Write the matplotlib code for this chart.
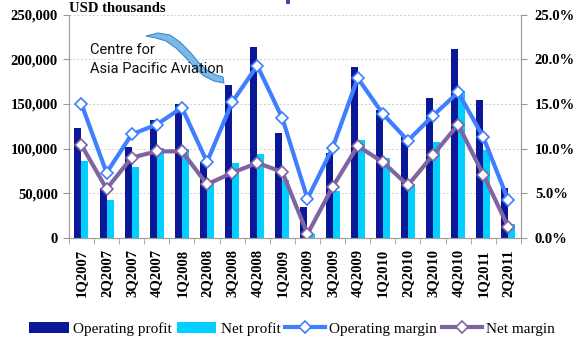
import matplotlib.pyplot as plt
import numpy as np
from matplotlib.patches import Polygon, Rectangle

quarters = ['1Q2007', '2Q2007', '3Q2007', '4Q2007', '1Q2008', '2Q2008',
            '3Q2008', '4Q2008', '1Q2009', '2Q2009', '3Q2009', '4Q2009',
            '1Q2010', '2Q2010', '3Q2010', '4Q2010', '1Q2011', '2Q2011']
operating_profit = [123500, 56000, 102000, 132000, 149500, 85000,
                    171000, 214000, 118000, 35000, 95000, 191000,
                    143500, 114000, 157000, 211000, 154000, 55500]
net_profit = [86000, 42500, 79000, 101000, 100000, 60000,
              83500, 93500, 65000, 4000, 53000, 110000,
              89000, 61000, 107000, 165000, 98000, 15500]
operating_margin = [15.0, 7.3, 11.6, 12.7, 14.6, 8.5, 15.2, 19.3, 13.4,
                    4.4, 10.1, 17.9, 13.9, 10.9, 13.7, 16.3, 11.3, 4.2]
net_margin = [10.4, 5.5, 9.0, 9.7, 9.7, 6.0, 7.3, 8.4, 7.4,
              0.45, 5.7, 10.3, 8.5, 5.9, 9.3, 12.7, 7.1, 1.2]

serif = 'Liberation Serif'
c_op = '#0A1796'
c_net = '#00CFFF'
c_opm = '#3F7FFF'
c_netm = '#8064A2'

W, H = 584, 348
fig = plt.figure(figsize=(W / 100, H / 100), dpi=100)
ax = fig.add_axes([0.118, 0.316, 0.774, 0.642])
ax2 = ax.twinx()

x = np.arange(len(quarters))
w = 0.28
b1 = ax.bar(x - w / 2, operating_profit, w, color=c_op, label='Operating profit', zorder=2)
b2 = ax.bar(x + w / 2, net_profit, w, color=c_net, label='Net profit', zorder=2)

l1, = ax2.plot(x, operating_margin, color=c_opm, lw=3, marker='D', ms=6,
               mfc='white', mec=c_opm, mew=1.2, label='Operating margin')
l2, = ax2.plot(x, net_margin, color=c_netm, lw=3, marker='D', ms=6,
               mfc='white', mec=c_netm, mew=1.2, label='Net margin')

ax.set_xlim(-0.5, len(quarters) - 0.5)
ax.set_ylim(0, 250000)
ax2.set_ylim(0, 25)
ax.set_yticks(np.arange(0, 250001, 50000))
ax.set_yticklabels([f'{v:,}' for v in range(0, 250001, 50000)])
ax2.set_yticks(np.arange(0, 25.1, 5))
ax2.set_yticklabels([f'{v:.1f}%' for v in np.arange(0, 25.1, 5)])

ax.set_xticks(x)
ax.set_xticklabels(quarters, rotation=90)
ax.set_xticks(np.arange(-0.5, len(quarters), 1), minor=True)
ax.tick_params(axis='x', which='major', length=0, pad=8)
ax.tick_params(axis='x', which='minor', length=4, color='#999999', direction='out')
ax.tick_params(axis='y', length=4, color='#999999', pad=4)
ax2.tick_params(axis='y', length=4, color='#999999', pad=6)

for lab in ax.get_xticklabels() + ax.get_yticklabels() + ax2.get_yticklabels():
    lab.set_fontfamily(serif)
    lab.set_fontweight('bold')
    lab.set_fontsize(10.5)

ax.grid(axis='y', color='#d0d0d0', ls=(0, (2, 2)), lw=0.7, zorder=0)
ax.set_axisbelow(True)
for a in (ax, ax2):
    a.spines['top'].set_visible(False)
    a.spines['left'].set_color('#a0a0a0')
    a.spines['right'].set_color('#a0a0a0')
    a.spines['bottom'].set_color('#a0a0a0')

ax.text(0.0, 1.0, 'USD thousands', transform=ax.transAxes, ha='left', va='bottom',
        fontfamily=serif, fontweight='bold', fontsize=10.5)


def px(pts):
    # pixel coords (from top-left) -> figure fraction
    return [(a / W, 1 - b / H) for a, b in pts]


# logo: swoosh ribbon and name
swoosh = [(146, 36), (158, 33), (170, 35), (180, 42), (190, 52), (199, 63),
          (208, 71), (216, 75), (223, 77), (224, 83), (214, 81), (204, 76),
          (195, 68), (186, 58), (176, 48), (166, 41), (156, 38)]
fig.patches.append(Polygon(px(swoosh), closed=True, transform=fig.transFigure,
                           facecolor='#7DB9E6', edgecolor='#3C8BD0', lw=0.8))
fig.text(90 / W, 1 - 54 / H, 'Centre for', fontfamily='Roboto', fontsize=10.5,
         color='#111111', va='baseline')
fig.text(90 / W, 1 - 73 / H, 'Asia Pacific Aviation', fontfamily='Roboto',
         fontsize=10.5, color='#111111', va='baseline')

# small mark at the top edge
fig.patches.append(Rectangle((286 / W, 1 - 4 / H), 4 / W, 4 / H, transform=fig.transFigure,
                             facecolor='#2F5597', edgecolor='none'))

fig.legend([b1, b2, l1, l2], ['Operating profit', 'Net profit', 'Operating margin', 'Net margin'],
           loc='lower center', bbox_to_anchor=(0.5, 0.0), ncol=4, frameon=False,
           prop={'family': serif, 'size': 11}, handlelength=2.6, columnspacing=0.3,
           handletextpad=0.3, borderaxespad=0.4)

fig.savefig('out.png', dpi=100)
